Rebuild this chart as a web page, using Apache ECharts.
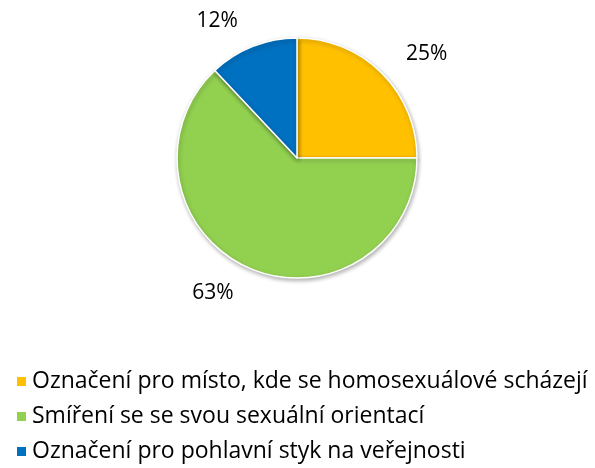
<!DOCTYPE html>
<html><head><meta charset="utf-8">
<script src="https://cdn.jsdelivr.net/npm/echarts@6/dist/echarts.min.js"></script>
<style>html,body{margin:0;padding:0;background:#fff}#c{width:595px;height:468px}</style>
</head><body><div id="c"></div>
<script>
var categories = ["Označení pro místo, kde se homosexuálové scházejí", "Smíření se se svou sexuální orientací", "Označení pro pohlavní styk na veřejnosti"];
var values = [25, 63, 12];
var colors = ["#FFC000", "#92D050", "#0070C0"];
var FONT = "Open Sans";
var chart = echarts.init(document.getElementById('c'));
chart.setOption({
  animation: false,
  color: colors,
  legend: {
    orient: 'vertical', left: 10, top: 365,
    itemWidth: 11, itemHeight: 11, itemGap: 12, icon: 'rect',
    textStyle: {fontFamily: FONT, fontSize: 23, color: '#000', lineHeight: 23},
    data: categories
  },
  series: [{
    type: 'pie', center: [297, 158], radius: 120, startAngle: 90, clockwise: true,
    data: categories.map(function(c, i){ return {name: c, value: values[i]}; }),
    itemStyle: {borderColor: '#fff', borderWidth: 1.5, shadowBlur: 4, shadowColor: 'rgba(0,0,0,0.3)', shadowOffsetX: 1, shadowOffsetY: 2},
    label: {show: true, position: 'outside', formatter: '{d}%', fontFamily: FONT, fontSize: 21, color: '#000'},
    labelLine: {show: false, length: 27, length2: 0},
    emphasis: {disabled: true}
  }]
});
</script></body></html>
